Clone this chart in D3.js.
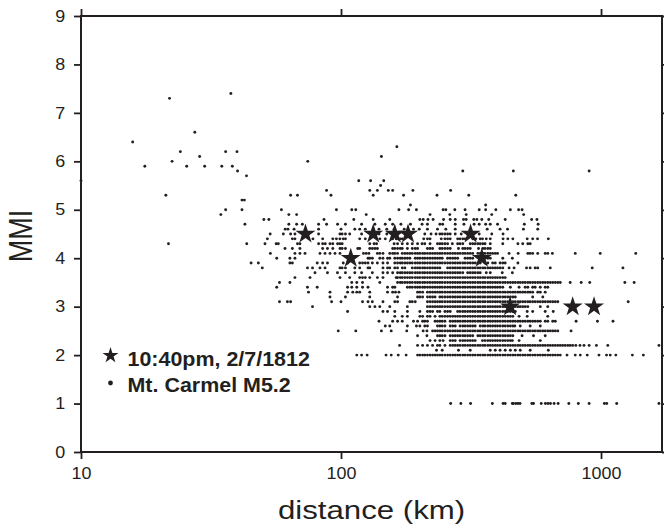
<!DOCTYPE html>
<html>
<head>
<meta charset="utf-8">
<script src="https://cdn.jsdelivr.net/npm/d3@7"></script>
<style>
  body { margin: 0; background: #fff; }
  svg { display: block; }
  text { font-family: "Liberation Sans", Arial, Helvetica, sans-serif; fill: #231f20; }
  .tick line { stroke: #231f20; stroke-width: 1.8; }
  .tick text { font-size: 16px; }
  .legend text { font-size: 19.5px; font-weight: bold; }
</style>
</head>
<body>
<div id="chart"></div>
<script>
// stars: 10:40pm, 2/7/1812 event
var starDist = [73, 109, 133, 161, 181, 315, 348, 447, 778, 940];
var starMmi = [4.5, 4.0, 4.5, 4.5, 4.5, 4.5, 4.0, 3.0, 3.0, 3.0];

// Mt. Carmel M5.2 observations, one list of distances (km) per MMI level
var obsLevels = [1.0, 2.0, 2.1, 2.2, 2.3, 2.4, 2.5, 2.6, 2.7, 2.8, 2.9, 3.0, 3.1, 3.2, 3.3, 3.4, 3.5, 3.6, 3.7, 3.8, 3.9,
  4.0, 4.1, 4.2, 4.3, 4.4, 4.5, 4.6, 4.7, 4.8, 4.9, 5.0, 5.1, 5.2, 5.3, 5.4, 5.5, 5.6, 5.7, 5.8, 5.9, 6.0, 6.1, 6.2, 6.3, 6.4, 6.6, 7.3, 7.4];

var obsDist = [
  [264, 289, 315, 382, 420, 428, 456, 460, 470, 479, 488, 542, 550, 589, 611, 625, 639, 660, 684, 752, 818, 900, 1030, 1052, 1149, 1670],
  [115, 120, 126, 149, 156, 166, 178, 197, 201, 206, 210, 215, 220, 225, 230, 235, 240, 245, 251, 257, 263, 269, 275, 281, 287, 294, 300, 307, 314, 321, 328, 336, 343, 351, 358, 367, 375, 383, 392, 400, 409, 419, 428, 438, 448, 458, 468, 479, 489, 500, 511, 523, 534, 546, 558, 571, 584, 597, 610, 624, 638, 652, 667, 682, 697, 740, 796, 832, 885, 982, 1050, 1085, 1140, 1320, 1455],
  [233, 245, 283, 314, 375, 392, 409, 428, 448, 468, 489, 534, 627],
  [168, 197, 206, 215, 225, 235, 240, 251, 263, 269, 275, 281, 287, 294, 300, 307, 314, 321, 328, 336, 343, 351, 358, 367, 375, 383, 392, 400, 409, 419, 428, 438, 448, 458, 468, 479, 489, 500, 511, 523, 534, 546, 558, 571, 584, 597, 610, 624, 638, 652, 667, 682, 697, 712, 728, 745, 761, 778, 800, 830, 860, 900, 960, 1062, 1670],
  [220, 230, 240, 247, 263, 269, 275, 287, 294, 300, 307, 314, 321, 328, 350, 358, 367, 375, 383, 392, 400, 409, 419, 428, 438, 448, 456, 484, 584],
  [197, 214, 235, 240, 245, 251, 263, 269, 275, 281, 287, 294, 300, 307, 314, 321, 336, 343, 351, 358, 367, 375, 383, 392, 400, 409, 419, 428, 438, 448, 458, 497, 550, 610],
  [97.6, 114, 143, 156, 179, 207, 214, 225, 230, 235, 240, 245, 251, 257, 263, 269, 275, 281, 287, 294, 300, 307, 314, 321, 328, 336, 343, 351, 358, 367, 375, 383, 392, 400, 409, 419, 428, 438, 448, 458, 468, 479, 489, 500, 511, 523, 534, 546, 558, 571, 584, 597, 610, 624, 638, 652, 667, 682, 767],
  [148, 154, 180, 195, 201, 210, 215, 235, 240, 245, 251, 263, 269, 275, 287, 294, 300, 307, 314, 321, 328, 343, 351, 358, 367, 375, 383, 392, 400, 409, 419, 428, 438, 448, 458, 466, 489, 534, 584],
  [140, 158, 165, 172, 190, 197, 206, 210, 215, 230, 235, 240, 245, 251, 263, 269, 275, 281, 287, 294, 300, 307, 314, 321, 328, 336, 343, 351, 358, 367, 375, 383, 392, 400, 409, 419, 428, 438, 448, 458, 468, 479, 489, 500, 511, 523, 534, 546, 558, 571, 584, 610, 624, 652, 667, 802, 969, 1112],
  [161, 172, 180, 201, 206, 215, 220, 230, 240, 245, 251, 257, 263, 269, 275, 281, 287, 294, 300, 307, 314, 321, 328, 336, 343, 351, 358, 367, 375, 383, 392, 400, 409, 419, 428, 438, 448, 458, 484, 520, 624],
  [106, 145, 151, 161, 180, 201, 215, 220, 225, 235, 240, 251, 257, 263, 281, 287, 294, 300, 307, 314, 321, 328, 336, 343, 351, 358, 367, 375, 383, 392, 400, 409, 419, 428, 438, 448, 458, 468, 520, 546, 610, 655],
  [77.7, 129, 135, 141, 154, 180, 215, 220, 225, 230, 235, 240, 245, 251, 257, 263, 269, 275, 281, 287, 294, 300, 307, 314, 321, 328, 336, 343, 351, 358, 367, 375, 383, 392, 400, 409, 419, 428, 438, 458, 468, 479, 489, 500, 511, 523, 584, 624],
  [58, 62.2, 64, 92, 100, 121, 127, 132, 145, 161, 165, 184, 188, 193, 215, 220, 225, 230, 235, 240, 245, 251, 257, 263, 269, 275, 281, 287, 294, 300, 307, 314, 321, 328, 336, 343, 351, 358, 367, 375, 383, 392, 400, 409, 419, 428, 438, 448, 458, 468, 479, 489, 500, 511, 523, 534, 546, 558, 571, 584, 597, 610, 624, 638, 652, 667, 682, 1272],
  [90.7, 104, 129, 165, 197, 201, 206, 215, 220, 225, 230, 240, 245, 251, 257, 263, 269, 275, 281, 287, 294, 300, 307, 314, 321, 328, 336, 343, 351, 358, 367, 375, 383, 392, 400, 409, 419, 428, 438, 448, 458, 468, 546, 597],
  [75, 90.7, 106, 111, 115, 118, 129, 151, 158, 162, 167, 197, 201, 206, 215, 220, 225, 230, 235, 240, 245, 251, 257, 263, 269, 275, 281, 287, 294, 300, 307, 314, 321, 328, 336, 343, 351, 358, 367, 375, 383, 392, 400, 409, 419, 428, 438, 448, 458, 468, 479, 489, 500, 511, 523, 534, 546, 571, 584, 610],
  [56.6, 74.3, 81, 106, 110, 115, 121, 127, 151, 158, 161, 180, 184, 188, 193, 197, 201, 206, 210, 215, 220, 225, 230, 235, 240, 245, 251, 257, 263, 269, 275, 281, 287, 294, 300, 307, 314, 321, 328, 336, 343, 351, 358, 367, 375, 383, 392, 400, 409, 419, 448, 484, 511, 523, 546, 558, 584, 610, 624],
  [58, 63.6, 110, 115, 121, 141, 165, 169, 172, 176, 180, 184, 188, 193, 197, 201, 206, 210, 215, 220, 225, 230, 235, 240, 245, 251, 257, 263, 269, 275, 281, 287, 294, 300, 307, 314, 321, 328, 336, 343, 351, 358, 367, 375, 383, 392, 400, 409, 419, 428, 438, 448, 458, 468, 479, 489, 500, 511, 523, 534, 546, 558, 571, 584, 597, 610, 624, 638, 652, 667, 682, 697, 761, 839, 905, 1235, 1341],
  [66.5, 76, 99.1, 108, 118, 121, 124, 129, 138, 145, 163, 165, 169, 172, 176, 180, 184, 188, 193, 197, 201, 206, 210, 215, 220, 225, 230, 235, 240, 245, 251, 257, 263, 269, 275, 281, 287, 294, 300, 307, 314, 321, 328, 336, 343, 351, 358, 367, 375, 383, 392, 400, 409, 419, 428],
  [79.4, 88.7, 96.9, 104, 113, 120, 132, 145, 151, 158, 165, 169, 172, 176, 180, 184, 188, 193, 197, 201, 206, 210, 215, 220, 225, 230, 235, 240, 245, 251, 257, 263, 269, 275, 281, 287, 294, 307, 314, 321, 328, 336, 343, 362, 375, 417, 456],
  [49.8, 74.3, 77.7, 83, 86.8, 99.1, 101, 104, 113, 118, 127, 129, 145, 151, 154, 161, 165, 172, 176, 188, 193, 197, 201, 206, 210, 215, 220, 225, 230, 235, 240, 257, 263, 269, 275, 281, 287, 294, 300, 307, 314, 321, 328, 336, 343, 351, 358, 367, 375, 383, 392, 400, 409, 419, 443, 463, 517, 534, 558, 571, 638, 925, 1214],
  [45.1, 48.1, 63.6, 65, 81, 85, 88.7, 102, 106, 118, 121, 124, 127, 132, 138, 145, 151, 161, 165, 169, 172, 176, 180, 184, 188, 193, 197, 201, 206, 210, 215, 220, 225, 230, 235, 240, 245, 251, 257, 263, 269, 275, 281, 287, 294, 300, 307, 314, 321, 328, 336, 343, 358, 367, 383, 392, 409, 419, 428, 479],
  [56.6, 63.6, 66.5, 127, 129, 132, 141, 145, 151, 154, 161, 165, 169, 172, 176, 180, 184, 193, 197, 201, 206, 210, 215, 220, 225, 230, 235, 240, 245, 257, 263, 269, 275, 281, 300, 307, 314, 321, 367, 375, 419, 456],
  [53.5, 66.5, 69.5, 72.7, 83, 86.8, 90.7, 94.8, 99.1, 122, 125, 128, 138, 141, 145, 154, 158, 161, 165, 172, 176, 180, 184, 188, 193, 197, 201, 206, 210, 215, 220, 225, 230, 235, 240, 245, 251, 257, 263, 269, 275, 281, 287, 294, 300, 307, 314, 321, 336, 343, 351, 358, 367, 375, 383, 392, 400, 443, 480, 523, 534, 546, 571, 610, 624, 650, 796, 993, 1360],
  [60.9, 65, 69.5, 85, 88.7, 93, 99.1, 101, 104, 116, 118, 129, 132, 135, 138, 158, 161, 165, 169, 172, 180, 188, 193, 197, 215, 220, 225, 240, 245, 251, 257, 263, 283, 294, 300, 307, 314, 338, 351, 358, 367, 375],
  [21.7, 43.4, 51, 56.3, 57.4, 68, 69.5, 82, 85, 87, 90.7, 93, 97, 99, 101, 129, 134, 137, 160, 165, 172, 180, 188, 197, 205, 210, 220, 235, 240, 245, 251, 257, 268, 281, 287, 294, 314, 321, 328, 336, 343, 351, 358, 375, 419, 479, 500, 523, 534],
  [52.1, 65, 66.5, 78, 85, 93, 96, 99, 102, 104, 118, 124, 141, 148, 158, 163, 169, 172, 208, 215, 220, 243, 251, 257, 263, 281, 287, 294, 300, 321, 330, 343, 350, 362, 375, 420, 438, 458, 520, 546, 570, 627],
  [53.4, 60, 64, 66.5, 82, 99, 101, 104, 108, 120, 140, 150, 210, 222, 232, 240, 245, 251, 257, 263, 275, 290, 340, 380, 420],
  [61, 62.5, 66, 82, 100, 113, 118, 124, 133, 140, 150, 160, 175, 190, 200, 215, 235, 253, 275, 314, 365, 409, 437, 503, 571],
  [42.7, 63, 67.5, 71, 82, 88, 97, 104, 120, 135, 148, 158, 170, 185, 205, 215, 240, 246, 275, 297, 325, 340, 360, 375, 400, 507, 573],
  [50.5, 52.8, 86, 112, 133, 154, 201, 207, 216, 226, 248, 263, 275, 296, 303, 324, 333, 348, 370, 428, 541, 567],
  [34.5, 63, 67.5, 125, 220, 262, 303, 380, 504],
  [36, 41.6, 59, 96, 110, 114, 167, 182, 195, 247, 253, 274, 300, 340, 360, 394, 448, 482, 497],
  [185, 360],
  [41.6, 42.5],
  [21.2, 64, 68, 91.5, 133, 174, 234, 310, 470],
  [88, 129, 138, 152, 158, 189, 264],
  [142],
  [10, 117, 130, 146],
  [43.3],
  [40, 294, 460, 900],
  [17.6, 25.5, 29.9, 34.8, 38.2],
  [22.4, 74.5],
  [28.6, 143],
  [24.1, 36, 39.8],
  [164],
  [15.8],
  [27.4],
  [21.9],
  [37.7]
];

var yTicks = [0, 1, 2, 3, 4, 5, 6, 7, 8, 9];
var xTicks = [10, 100, 1000];

var ink = "#231f20";
var margin = { top: 16, right: 2, bottom: 77, left: 81 };
var width = 664 - margin.left - margin.right;
var height = 529 - margin.top - margin.bottom;

var svg = d3.select("#chart").append("svg")
  .attr("width", 664)
  .attr("height", 529)
  .append("g")
  .attr("transform", "translate(" + margin.left + "," + margin.top + ")");

var x = d3.scaleLog().domain([10, 1716]).range([0, width]);
var y = d3.scaleLinear().domain([0, 9]).range([height, 0]);

var points = [];
obsLevels.forEach(function(m, i){
  obsDist[i].forEach(function(d){ points.push({ dist: d, mmi: m }); });
});

// observations
svg.selectAll(".obs").data(points).enter().append("circle")
  .attr("class", "obs")
  .attr("cx", function(d){ return x(d.dist); })
  .attr("cy", function(d){ return y(d.mmi); })
  .attr("r", 1.45)
  .attr("fill", ink);

// stars
var star = d3.symbol().type(d3.symbolStar);
svg.selectAll(".star").data(starDist).enter().append("path")
  .attr("class", "star")
  .attr("d", star.size(124)())
  .attr("transform", function(d, i){ return "translate(" + x(d) + "," + y(starMmi[i]) + ")"; })
  .attr("fill", ink);

// axes
function styleAxis(g){
  g.select(".domain").remove();
}

svg.append("g")
  .attr("transform", "translate(0," + height + ")")
  .call(d3.axisBottom(x).tickValues(xTicks).tickFormat(d3.format("d")).tickSize(7).tickPadding(9))
  .call(styleAxis)
  .selectAll("text")
  .attr("transform", "scale(1.12,1)");

svg.append("g")
  .call(d3.axisTop(x).tickValues(xTicks).tickFormat("").tickSize(7))
  .call(styleAxis);

svg.append("g")
  .call(d3.axisLeft(y).tickValues(yTicks).tickFormat(d3.format("d")).tickSize(7).tickPadding(7))
  .call(styleAxis)
  .selectAll("text")
  .attr("transform", "scale(1.12,1)");

svg.append("g")
  .attr("transform", "translate(" + width + ",0)")
  .call(d3.axisRight(y).tickValues(yTicks).tickFormat("").tickSize(7))
  .call(styleAxis);

svg.selectAll(".tick text").attr("fill", ink).style("fill", ink);

svg.append("rect")
  .attr("width", width)
  .attr("height", height)
  .attr("fill", "none")
  .attr("stroke", ink)
  .attr("stroke-width", 2);

// axis titles
svg.append("text")
  .attr("text-anchor", "middle")
  .attr("transform", "translate(" + (width / 2) + "," + (height + 67) + ")scale(1.2,1)")
  .style("font-size", "26px")
  .text("distance (km)");

svg.append("text")
  .attr("text-anchor", "middle")
  .attr("transform", "translate(-49," + (height / 2 + 2) + ")scale(1.2,1)rotate(-90)")
  .style("font-size", "27px")
  .text("MMI");

// legend
var legend = svg.append("g").attr("class", "legend")
  .attr("transform", "translate(29.5,339.5)");

legend.append("path")
  .attr("d", d3.symbol().type(d3.symbolStar).size(79)())
  .attr("fill", ink);

legend.append("text")
  .attr("transform", "translate(17,10)scale(1.1,1)")
  .text("10:40pm, 2/7/1812");

legend.append("circle")
  .attr("cx", 0)
  .attr("cy", 27.5)
  .attr("r", 2.4)
  .attr("fill", ink);

legend.append("text")
  .attr("transform", "translate(17,36.5)scale(1.1,1)")
  .text("Mt. Carmel M5.2");
</script>
</body>
</html>
